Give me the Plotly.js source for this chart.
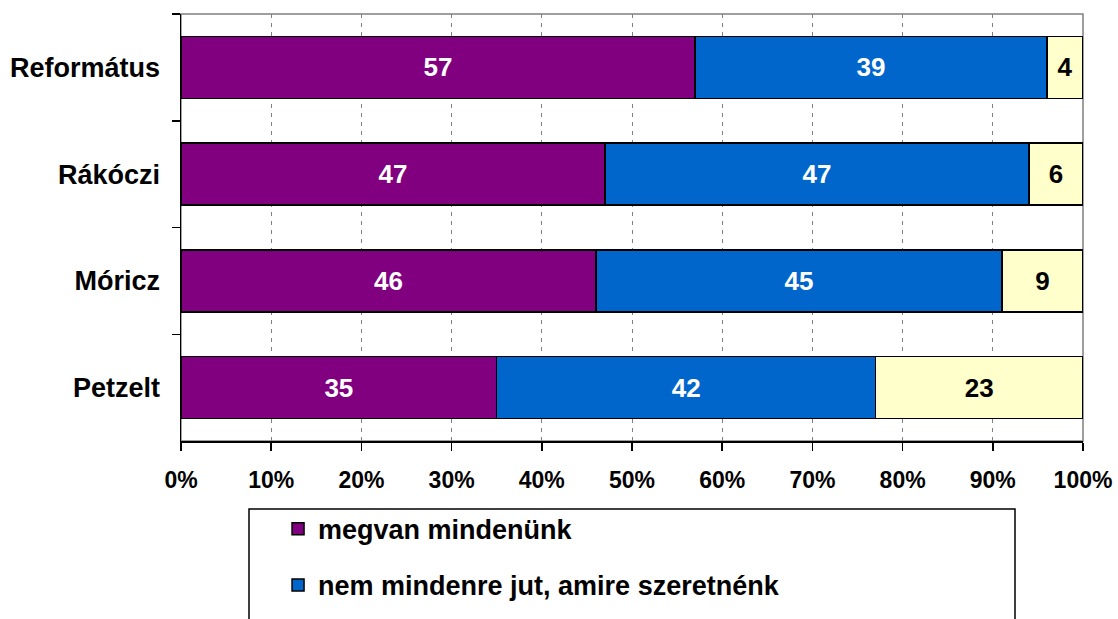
<!DOCTYPE html>
<html>
<head>
<meta charset="utf-8">
<script src="https://cdn.plot.ly/plotly-3.0.1.min.js"></script>
<style>html,body{margin:0;padding:0;background:#fff;}#chart{width:1118px;height:619px;}</style>
</head>
<body>
<div id="chart"></div>
<script>
const categories = ["Református", "Rákóczi", "Móricz", "Petzelt"];
const seriesNames = ["megvan mindenünk", "nem mindenre jut, amire szeretnénk", "nincs elég"];
const megvan = [57, 47, 46, 35];
const nemMindenre = [39, 47, 45, 42];
const nincs = [4, 6, 9, 23];
const xTickVals = [0, 10, 20, 30, 40, 50, 60, 70, 80, 90, 100];
const xTickText = ["0%", "10%", "20%", "30%", "40%", "50%", "60%", "70%", "80%", "90%", "100%"];

const FONT = "Arial, 'Liberation Sans', sans-serif";
const colors = ["#800080", "#0066CC", "#FFFFCC"];
const textColors = ["#FFFFFF", "#FFFFFF", "#000000"];
const inLegend = [true, true, false];
const values = [megvan, nemMindenre, nincs];

const traces = values.map((v, i) => ({
  type: "bar",
  orientation: "h",
  name: seriesNames[i],
  legendgroup: "g" + i,
  showlegend: inLegend[i],
  y: categories,
  x: v,
  text: v.map(String),
  textposition: "inside",
  insidetextanchor: "middle",
  constraintext: "none",
  textfont: {family: FONT, size: 26, color: textColors[i], weight: "bold"},
  marker: {color: colors[i], line: {color: "#000000", width: 1.5}},
  hoverinfo: "skip"
}));

const layout = {
  width: 1118,
  height: 619,
  margin: {l: 181, r: 35, t: 14, b: 178, autoexpand: false},
  paper_bgcolor: "#FFFFFF",
  plot_bgcolor: "#FFFFFF",
  barmode: "stack",
  bargap: 0.42,
  font: {family: FONT, color: "#000000"},
  showlegend: true,
  legend: {
    xref: "container", yref: "container",
    x: 0.2487, y: 0.1845, xanchor: "left", yanchor: "top",
    orientation: "v",
    traceorder: "grouped",
    tracegroupgap: 18,
    bgcolor: "rgba(0,0,0,0)",
    borderwidth: 0,
    font: {family: FONT, size: 27, color: "#000000", weight: "bold"}
  },
  xaxis: {
    range: [0, 100],
    tickmode: "array",
    tickvals: xTickVals,
    ticktext: xTickText,
    ticks: "outside",
    ticklen: 8,
    tickcolor: "#000000",
    tickwidth: 1.5,
    showline: true,
    linecolor: "#000000",
    linewidth: 1.5,
    showgrid: true,
    gridcolor: "#808080",
    gridwidth: 1,
    griddash: "4px,5px",
    zeroline: false,
    ticklabelstandoff: 10,
    tickfont: {family: FONT, size: 23, color: "#000000", weight: "bold"},
    fixedrange: true
  },
  yaxis: {
    type: "category",
    categoryorder: "array",
    categoryarray: categories,
    range: [3.5, -0.5],
    tickson: "boundaries",
    ticks: "outside",
    ticklen: 8,
    tickcolor: "#000000",
    tickwidth: 1.5,
    showline: true,
    linecolor: "#000000",
    linewidth: 1.5,
    showgrid: false,
    zeroline: false,
    ticklabelstandoff: 14,
    tickfont: {family: FONT, size: 27, color: "#000000", weight: "bold"},
    fixedrange: true
  },
  shapes: [
    {type: "rect", xref: "paper", yref: "paper", x0: 0, x1: 1, y0: 0, y1: 1,
     line: {color: "#808080", width: 1.5}, fillcolor: "rgba(0,0,0,0)", layer: "below"},
    {type: "rect", xref: "paper", yref: "paper",
     x0: (249 - 181) / 902, x1: (1015 - 181) / 902,
     y0: -0.6, y1: -(509 - 441) / 427,
     line: {color: "#000000", width: 1.5}, fillcolor: "rgba(0,0,0,0)", layer: "above"}
  ]
};

Plotly.newPlot("chart", traces, layout, {displayModeBar: false, staticPlot: true});
</script>
</body>
</html>
